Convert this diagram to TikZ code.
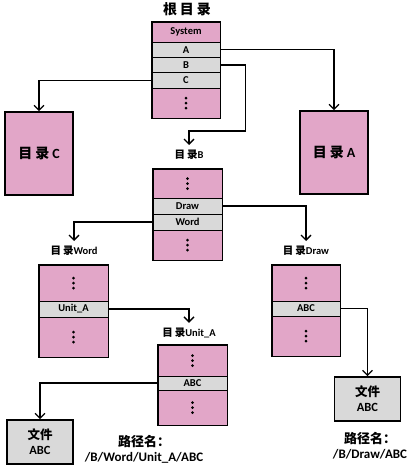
\documentclass[tikz,border=0pt]{standalone}
\usepackage{fontspec}
\setmainfont{Carlito}
\newfontfamily\cjk{Noto Sans CJK SC}
\usetikzlibrary{arrows.meta}
\definecolor{pinkfill}{RGB}{226,166,200}
\definecolor{grayfill}{RGB}{217,217,217}
\tikzset{
 cell/.style={draw=black, line width=0.7pt, minimum width=68pt, inner sep=0pt, font=\bfseries\fontsize{10.5}{11}\selectfont},
 namecell/.style={cell, fill=grayfill},
 syscell/.style={cell, fill=pinkfill},
 dotcell/.style={cell, fill=pinkfill, path picture={\foreach \dy in {-5,0,5}{\fill[black] ([yshift=\dy pt]path picture bounding box.center) circle (1.5pt);}}},
 frame/.style={draw=black, line width=1.6pt},
 bigbox/.style={draw=black, line width=1.6pt, fill=pinkfill, minimum width=68pt, minimum height=83pt, font=\bfseries\fontsize{14}{14}\selectfont},
 filebox/.style={draw=black, line width=1.6pt, fill=grayfill, minimum width=66pt, minimum height=44pt, align=center, font=\bfseries\fontsize{12.5}{15}\selectfont, inner sep=0pt},
 conn/.style={line width=1.3pt, -{Straight Barb[length=5pt,width=10pt,line width=1.3pt]}},
 dirlabel/.style={font=\bfseries\fontsize{10.5}{11}\selectfont, inner sep=2pt},
 pathlabel/.style={font=\bfseries\fontsize{13}{15}\selectfont, align=center, inner sep=0pt},
}
\begin{document}
\begin{tikzpicture}[x=1pt,y=-1pt]
\useasboundingbox (0,0) rectangle (413,469);
% root
\node[font=\fontsize{14}{14}\selectfont] (title) at (187,9) {\cjk\bfseries 根\hspace{3pt}目\hspace{3pt}录};
\node[syscell, minimum height=20pt] (sys) at (186,32) {System};
\node[namecell, minimum height=15.3pt] (rA) at (186,49.7) {A};
\node[namecell, minimum height=15.3pt] (rB) at (186,65) {B};
\node[namecell, minimum height=15.3pt] (rC) at (186,80.3) {C};
\node[dotcell, minimum height=30pt] (rD) at (186,103) {};
\draw[frame] (sys.north west) rectangle (rD.south east);
% dir C and A
\node[bigbox] (dirC) at (39,153.5) {{\cjk\bfseries 目\hspace{3pt}录}\hspace{3pt}C};
\node[bigbox] (dirA) at (334,152.5) {{\cjk\bfseries 目\hspace{3pt}录}\hspace{3pt}A};
% dir B
\node[dirlabel] (labB) at (189,155) {{\cjk\bfseries 目\hspace{2pt}录}B};
\node[dotcell, minimum width=69pt, minimum height=29pt] (bD1) at (187.5,183.5) {};
\node[namecell, minimum width=69pt, minimum height=16pt] (bDraw) at (187.5,206) {Draw};
\node[namecell, minimum width=69pt, minimum height=16pt] (bWord) at (187.5,222) {Word};
\node[dotcell, minimum width=69pt, minimum height=30pt] (bD2) at (187.5,245) {};
\draw[frame] (bD1.north west) rectangle (bD2.south east);
% dir Word
\node[dirlabel] (labWord) at (74,251) {{\cjk\bfseries 目\hspace{2pt}录}Word};
\node[dotcell, minimum width=69pt, minimum height=36pt] (wD1) at (73.5,283) {};
\node[namecell, minimum width=69pt, minimum height=16pt] (wUnit) at (73.5,309) {Unit\_A};
\node[dotcell, minimum width=69pt, minimum height=40pt] (wD2) at (73.5,337) {};
\draw[frame] (wD1.north west) rectangle (wD2.south east);
% dir Draw
\node[dirlabel] (labDraw) at (306,251) {{\cjk\bfseries 目\hspace{2pt}录}Draw};
\node[dotcell, minimum height=36pt] (dD1) at (306,283) {};
\node[namecell, minimum height=15pt] (dABC) at (306,308.5) {ABC};
\node[dotcell, minimum height=40pt] (dD2) at (306,336) {};
\draw[frame] (dD1.north west) rectangle (dD2.south east);
% dir Unit_A
\node[dirlabel] (labUnit) at (189,333) {{\cjk\bfseries 目\hspace{2pt}录}Unit\_A};
\node[dotcell, minimum width=69pt, minimum height=31pt] (uD1) at (192.5,360.5) {};
\node[namecell, minimum width=69pt, minimum height=14pt] (uABC) at (192.5,383) {ABC};
\node[dotcell, minimum width=69pt, minimum height=35pt] (uD2) at (192.5,407.5) {};
\draw[frame] (uD1.north west) rectangle (uD2.south east);
% files
\node[filebox] (file1) at (40,442) {{\cjk\bfseries 文件}\\ABC};
\node[filebox] (file2) at (367.5,399) {{\cjk\bfseries 文件}\\ABC};
% path labels
\node[pathlabel] (path1) at (144,449) {{\cjk\bfseries 路径名：}\\/B/Word/Unit\_A/ABC};
\node[pathlabel] (path2) at (370,445.5) {{\cjk\bfseries 路径名：}\\/B/Draw/ABC};
% connectors
\draw[conn] (rA.east) -| (dirA.north);
\draw[conn] (rC.west) -| (dirC.north);
\draw[conn, shorten >=3pt] (rB.east) -- ++(25,0) -- ++(0,66) -| (labB.north);
\draw[conn, shorten >=3pt] (bDraw.east) -| (labDraw.north);
\draw[conn, shorten >=3pt] (bWord.west) -| (labWord.north);
\draw[conn, shorten >=3pt] (wUnit.east) -| (labUnit.north);
\draw[conn] (uABC.west) -| (file1.north);
\draw[conn] (dABC.east) -| (file2.north);
\end{tikzpicture}
\end{document}
